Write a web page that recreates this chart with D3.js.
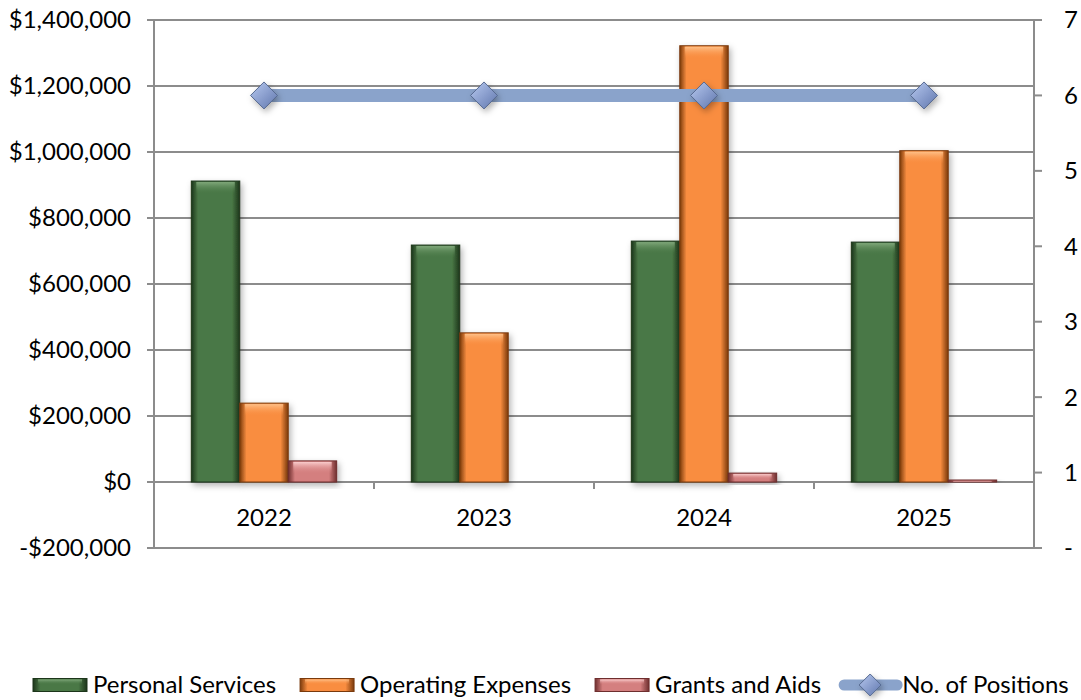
<!DOCTYPE html>
<html>
<head>
<meta charset="utf-8">
<script src="https://cdn.jsdelivr.net/npm/d3@7"></script>
<style>
  body { margin: 0; background: #fff; }
  svg { display: block; font-family: Lato, "Open Sans", sans-serif; }
</style>
</head>
<body>
<div id="chart"></div>
<script>
// chart values
var years = ["2022", "2023", "2024", "2025"];
var seriesNames = ["Personal Services", "Operating Expenses", "Grants and Aids"];
var personalServices = [912000, 718000, 730000, 727000];
var operatingExpenses = [239000, 452000, 1322000, 1004000];
var grantsAndAids = [64000, 0, 27000, 6000];
var positions = [6, 6, 6, 6];
var leftTicks = [-200000, 0, 200000, 400000, 600000, 800000, 1000000, 1200000, 1400000];
var rightTicks = [0, 1, 2, 3, 4, 5, 6, 7];

var width = 1081, height = 700;
var m = { left: 154, right: 1034, top: 20, bottom: 548 };
var fs = 24;

var svg = d3.select("#chart").append("svg")
  .attr("width", width).attr("height", height);

var defs = svg.append("defs");

var palette = [
  { mid: "#4a7846", edge: "#1c351a", top: "#86ad80" },
  { mid: "#f98d40", edge: "#7a3a0c", top: "#ffc690" },
  { mid: "#d47f7f", edge: "#6e2e2e", top: "#ffd6d6" }
];

palette.forEach(function(p, i) {
  var g = defs.append("linearGradient").attr("id", "bar" + i)
    .attr("x1", "0").attr("x2", "1").attr("y1", "0").attr("y2", "0");
  g.append("stop").attr("offset", "0").attr("stop-color", p.edge);
  g.append("stop").attr("offset", "0.14").attr("stop-color", p.mid);
  g.append("stop").attr("offset", "0.84").attr("stop-color", p.mid);
  g.append("stop").attr("offset", "1").attr("stop-color", p.edge);
  var t = defs.append("linearGradient").attr("id", "top" + i)
    .attr("x1", "0").attr("x2", "0").attr("y1", "0").attr("y2", "1");
  t.append("stop").attr("offset", "0").attr("stop-color", p.top).attr("stop-opacity", 0.9);
  t.append("stop").attr("offset", "1").attr("stop-color", p.mid).attr("stop-opacity", 0);
});

var dg = defs.append("linearGradient").attr("id", "diamond")
  .attr("x1", "0").attr("x2", "1").attr("y1", "0").attr("y2", "1");
dg.append("stop").attr("offset", "0").attr("stop-color", "#b8c9f0");
dg.append("stop").attr("offset", "1").attr("stop-color", "#5f76ad");

var sh = defs.append("filter").attr("id", "shadow")
  .attr("x", "-20%").attr("y", "-20%").attr("width", "150%").attr("height", "150%");
sh.append("feDropShadow").attr("dx", 2).attr("dy", 3).attr("stdDeviation", 3)
  .attr("flood-color", "#000").attr("flood-opacity", 0.3);

var x = d3.scaleBand().domain(years).range([m.left, m.right]).paddingInner(0).paddingOuter(0);
var xs = d3.scaleBand().domain(seriesNames).range([0, x.bandwidth()]).paddingInner(0).paddingOuter(0.77);
var y = d3.scaleLinear().domain([-200000, 1400000]).range([m.bottom, m.top]);
var y2 = d3.scaleLinear().domain([0, 7]).range([m.bottom, m.top]);

var grid = "#8c8c8c";

// gridlines
svg.append("g").selectAll("line").data(leftTicks).enter().append("line")
  .attr("x1", m.left - 7).attr("x2", function(d) { return d === -200000 ? m.right + 8 : m.right; })
  .attr("y1", function(d) { return y(d); }).attr("y2", function(d) { return y(d); })
  .attr("stroke", grid).attr("stroke-width", 2);

// axes lines
svg.append("line").attr("x1", m.left).attr("x2", m.left)
  .attr("y1", m.top).attr("y2", m.bottom).attr("stroke", grid).attr("stroke-width", 2);
svg.append("line").attr("x1", m.right).attr("x2", m.right)
  .attr("y1", m.top).attr("y2", m.bottom).attr("stroke", grid).attr("stroke-width", 2);

// right ticks
svg.append("g").selectAll("line").data(rightTicks).enter().append("line")
  .attr("x1", m.right).attr("x2", m.right + 8)
  .attr("y1", function(d) { return y2(d); }).attr("y2", function(d) { return y2(d); })
  .attr("stroke", grid).attr("stroke-width", 2);

// category ticks
svg.append("g").selectAll("line").data(years.slice(1)).enter().append("line")
  .attr("x1", function(d) { return x(d); }).attr("x2", function(d) { return x(d); })
  .attr("y1", y(0)).attr("y2", y(0) + 7)
  .attr("stroke", grid).attr("stroke-width", 2);

// left labels
var fmt = function(d) { return (d < 0 ? "-$" : "$") + d3.format(",")(Math.abs(d)); };
svg.append("g").selectAll("text").data(leftTicks).enter().append("text")
  .attr("x", 131).attr("y", function(d) { return y(d); })
  .attr("dy", "0.35em").attr("text-anchor", "end")
  .attr("font-size", fs).attr("fill", "#000").text(fmt);

svg.append("g").selectAll("text").data(rightTicks).enter().append("text")
  .attr("x", 1064).attr("y", function(d) { return y2(d); })
  .attr("dy", "0.35em").attr("text-anchor", "start")
  .attr("font-size", fs).attr("fill", "#000")
  .text(function(d) { return d === 0 ? "-" : d; });

svg.append("g").selectAll("text").data(years).enter().append("text")
  .attr("x", function(d) { return x(d) + x.bandwidth() / 2; }).attr("y", 518)
  .attr("dy", "0.35em").attr("text-anchor", "middle")
  .attr("font-size", fs).attr("fill", "#000").text(function(d) { return d; });

// bars
var seriesData = [personalServices, operatingExpenses, grantsAndAids];
var barG = svg.append("g");
seriesData.forEach(function(vals, si) {
  var name = seriesNames[si];
  var g = barG.append("g");
  var rows = years.map(function(yr, i) { return { year: yr, v: vals[i] }; })
    .filter(function(d) { return d.v > 0; });
  var bars = g.selectAll("g").data(rows).enter().append("g");
  bars.append("rect")
    .attr("x", function(d) { return x(d.year) + xs(name); })
    .attr("y", function(d) { return y(d.v); })
    .attr("width", xs.bandwidth())
    .attr("height", function(d) { return y(0) - y(d.v); })
    .attr("fill", "url(#bar" + si + ")")
    .attr("stroke", palette[si].edge).attr("stroke-width", 1)
    .attr("filter", "url(#shadow)");
  bars.append("rect")
    .attr("x", function(d) { return x(d.year) + xs(name) + 5; })
    .attr("y", function(d) { return y(d.v) + 1; })
    .attr("width", xs.bandwidth() - 10)
    .attr("height", function(d) { return Math.min(12, (y(0) - y(d.v)) * 0.6); })
    .attr("fill", "url(#top" + si + ")");
});

// positions line
var line = d3.line()
  .x(function(d, i) { return x(years[i]) + x.bandwidth() / 2; })
  .y(function(d) { return y2(d); });
svg.append("path").datum(positions).attr("d", line)
  .attr("fill", "none").attr("stroke", "#8aa3cb").attr("stroke-width", 13);

function diamond(sel, r) {
  sel.attr("d", "M0," + (-r) + "L" + r + ",0L0," + r + "L" + (-r) + ",0Z")
    .attr("fill", "url(#diamond)").attr("stroke", "#55698f").attr("stroke-width", 1)
    .attr("filter", "url(#shadow)");
}
svg.append("g").selectAll("path").data(positions).enter().append("path")
  .attr("transform", function(d, i) {
    return "translate(" + (x(years[i]) + x.bandwidth() / 2) + "," + y2(d) + ")";
  })
  .call(diamond, 13.5);

// legend
var legendItems = seriesNames.concat(["No. of Positions"]);
var leg = svg.append("g");
var lx = 33, ly = 685;
legendItems.forEach(function(name, i) {
  var g = leg.append("g");
  var off = i < 3 ? 60 : 63;
  if (i < 3) {
    g.append("rect").attr("x", lx).attr("y", ly - 6.5).attr("width", 54).attr("height", 13)
      .attr("fill", "url(#bar" + i + ")").attr("stroke", palette[i].edge).attr("stroke-width", 1);
    g.append("rect").attr("x", lx + 5).attr("y", ly - 5.5).attr("width", 44).attr("height", 5)
      .attr("fill", "url(#top" + i + ")");
  } else {
    g.append("line").attr("x1", lx + 5).attr("x2", lx + 58).attr("y1", ly).attr("y2", ly)
      .attr("stroke", "#8aa3cb").attr("stroke-width", 11).attr("stroke-linecap", "round");
    g.append("path").attr("transform", "translate(" + (lx + 31) + "," + ly + ")").call(diamond, 11);
  }
  var t = g.append("text").attr("x", lx + off).attr("y", ly).attr("dy", "0.35em")
    .attr("font-size", fs).attr("fill", "#000").text(name);
  lx = lx + off + t.node().getComputedTextLength() + (i < 2 ? 24 : 18);
});
</script>
</body>
</html>
